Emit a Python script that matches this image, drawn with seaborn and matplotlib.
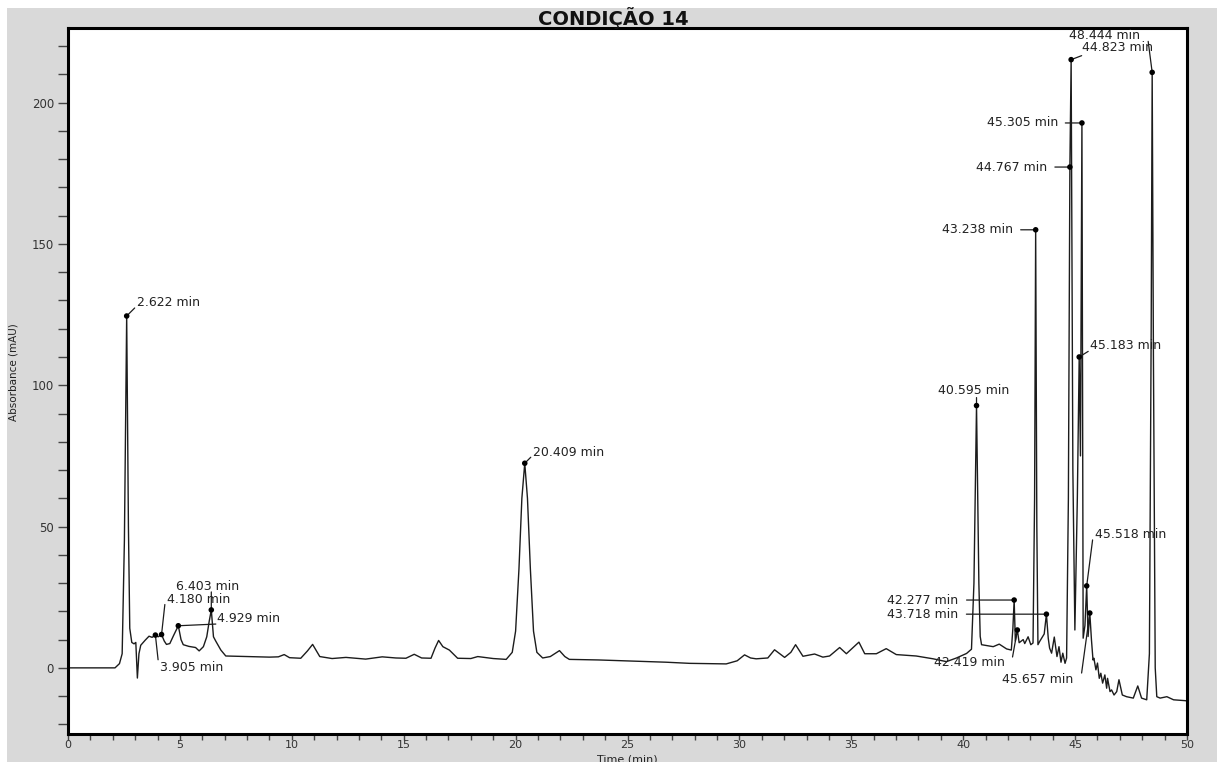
import matplotlib
matplotlib.use("Agg")
import matplotlib.pyplot as plt
from matplotlib.patches import Rectangle
from matplotlib.ticker import MultipleLocator
import numpy as np
import pandas as pd
import seaborn as sns

# Chromatogram trace (time in min, absorbance in mAU), excluding labelled peak apexes
trace_time = [
    0.00, 2.10, 2.30, 2.42, 2.52, 2.70, 2.76, 2.85, 2.95, 3.03, 3.10, 3.17, 3.25,
    3.45, 3.62, 3.76, 4.03, 4.30, 4.40, 4.55, 4.72, 5.05, 5.15, 5.40, 5.70, 5.86,
    6.05, 6.20, 6.31, 6.50, 6.60, 6.83, 7.05, 8.00, 9.00, 9.40, 9.66, 9.90, 10.40,
    10.70, 10.93, 11.10, 11.25, 11.80, 12.42, 13.30, 14.04, 14.65, 15.10, 15.47,
    15.80, 16.22, 16.40, 16.56, 16.75, 17.04, 17.41, 18.00, 18.31, 19.00, 19.58,
    19.85, 20.00, 20.15, 20.28, 20.53, 20.66, 20.80, 20.95, 21.21, 21.55, 21.96,
    22.20, 22.40, 23.70, 25.20, 26.73, 27.77, 29.41, 29.90, 30.23, 30.50, 30.75,
    31.27, 31.57, 32.02, 32.30, 32.51, 32.84, 33.36, 33.73, 34.03, 34.48, 34.78,
    35.34, 35.60, 36.12, 36.56, 37.01, 37.90, 38.66, 39.25, 39.70, 40.15, 40.37,
    40.48, 40.70, 40.76, 40.82, 41.34, 41.61, 41.94, 42.15, 42.22, 42.33, 42.50,
    42.68, 42.75, 42.90, 43.02, 43.12, 43.19, 43.29, 43.34, 43.42, 43.62, 43.80,
    43.86, 43.95, 44.07, 44.19, 44.28, 44.37, 44.45, 44.55, 44.62, 44.70, 44.90,
    44.99, 45.10, 45.24, 45.36, 45.44, 45.58, 45.73, 45.80, 45.84, 45.93, 46.00,
    46.08, 46.15, 46.23, 46.33, 46.41, 46.45, 46.56, 46.63, 46.74, 46.86, 46.96,
    47.11, 47.30, 47.60, 47.80, 47.97, 48.20, 48.32, 48.40, 48.50, 48.58, 48.65,
    48.80, 49.10, 49.40, 49.91, 50.00,
]
trace_abs = [
    0.0, 0.0, 1.5, 5.0, 45.0, 50.0, 14.0, 9.0, 8.5, 9.0, -3.6, 5.0, 8.0,
    9.8, 11.2, 10.8, 11.0, 9.5, 8.3, 8.6, 11.5, 10.0, 8.2, 7.6, 7.2, 6.0,
    7.5, 11.0, 16.5, 11.0, 9.5, 6.3, 4.2, 4.0, 3.8, 3.9, 4.7, 3.6, 3.4,
    6.0, 8.3, 6.0, 4.0, 3.3, 3.7, 3.1, 3.9, 3.5, 3.4, 4.8,
    3.5, 3.4, 7.0, 9.7, 7.5, 6.3, 3.4, 3.3, 4.0, 3.3, 3.0,
    5.5, 13.0, 35.0, 60.0, 60.0, 35.0, 13.0, 5.5, 3.5, 4.0, 6.1,
    4.0, 3.0, 2.8, 2.4, 2.0, 1.6, 1.4, 2.5, 4.6, 3.5, 3.2,
    3.5, 6.4, 3.7, 5.5, 8.2, 4.1, 4.9, 3.8, 4.2, 7.2, 5.0,
    9.1, 5.0, 5.0, 6.8, 4.7, 4.2, 3.2, 2.2, 3.5, 5.1, 6.6,
    30.0, 30.0, 11.1, 8.2, 7.5, 8.4, 6.7, 6.3, 14.0, 9.5, 8.9,
    10.0, 8.6, 11.0, 8.2, 8.8, 60.0, 50.0, 8.2, 9.4, 12.0, 10.5,
    7.0, 5.2, 10.9, 4.0, 7.5, 2.0, 5.2, 1.6, 3.5, 60.0, 70.0,
    13.4, 60.0, 75.0, 10.5, 15.0, 11.1, 10.0, 2.8, 3.4, -0.7, 1.7,
    -3.7, -1.9, -5.4, -2.5, -7.2, -3.7, -8.4, -7.8, -9.6, -8.4, -4.2,
    -9.6, -10.2, -10.7, -6.4, -10.7, -11.3, 5.0, 120.0, 110.0, 0.0, -10.2,
    -10.7, -10.2, -11.3, -11.6, -11.7,
]

# Integrated peaks: retention time (min) and apex absorbance (mAU)
peak_times = [2.622, 3.905, 4.180, 4.929, 6.403, 20.409, 40.595, 42.277, 42.419,
              43.238, 43.718, 44.767, 44.823, 45.183, 45.305, 45.518, 45.657, 48.444]
peak_heights = [124.5, 11.6, 11.8, 14.9, 20.5, 72.4, 92.8, 24.0, 13.4,
                155.0, 19.0, 177.2, 215.2, 110.0, 192.8, 29.0, 19.4, 210.7]

# Label placement per peak: text offset (px), alignment, leader end offset (px)
label_layout = {
    2.622: ((10, 13), "left", (8, 8)),
    3.905: ((5, -32), "left", (2.7, -24.7)),
    4.180: ((5, 35), "left", (3.3, 30)),
    4.929: ((39, 7), "left", (37.5, 1.7)),
    6.403: ((-4, 23), "center", (0, 18)),
    20.409: ((8, 11), "left", (6, 6)),
    40.595: ((-3, 15), "center", (0, 8)),
    42.277: ((-56, 0), "right", (-47.6, 0)),
    42.419: ((-12.5, -33), "right", (-4.8, -27)),
    43.238: ((-22.5, 0), "right", (-15, 0)),
    43.718: ((-88.5, 0), "right", (-80, 0)),
    44.767: ((-22.3, 0), "right", (-15, 0)),
    44.823: ((10.5, 11.7), "left", (10.5, 4)),
    45.183: ((10.7, 11.6), "left", (9, 5.6)),
    45.305: ((-23.3, 0), "right", (-16.6, 0)),
    45.518: ((8.2, 51.7), "left", (5.9, 46)),
    45.657: ((-16.6, -66.7), "right", (-8.2, -60)),
    48.444: ((-12.2, 37), "right", (-4, 31)),
}

df = pd.DataFrame({
    "time": trace_time + peak_times,
    "absorbance": trace_abs + peak_heights,
}).sort_values("time").reset_index(drop=True)

sns.set_theme(style="white")
plt.rcParams["font.family"] = ["DejaVu Sans"]

W, H = 1217, 762
fig = plt.figure(figsize=(W / 100, H / 100), dpi=100, facecolor="white")
fig.add_artist(Rectangle((7 / W, 0), 1 - 7 / W, 1 - 8 / H, transform=fig.transFigure,
                         facecolor="#d9d9d9", edgecolor="none", zorder=-10))

ax = fig.add_axes([68 / W, 1 - 734 / H, (1187 - 68) / W, (734 - 28) / H])
ax.set_facecolor("white")

sns.lineplot(data=df, x="time", y="absorbance", ax=ax, color="#1c1c1c",
             linewidth=1.0, estimator=None, sort=False)
sns.scatterplot(x=peak_times, y=peak_heights, ax=ax, color="black", s=16,
                edgecolor="none", zorder=5)

ax.set_xlim(0, 50)
ax.set_ylim(-23.4, 226.4)
ax.xaxis.set_major_locator(MultipleLocator(5))
ax.xaxis.set_minor_locator(MultipleLocator(1))
ax.yaxis.set_major_locator(MultipleLocator(50))
ax.yaxis.set_minor_locator(MultipleLocator(10))
ax.tick_params(axis="both", which="both", direction="out", color="#444444",
               width=1.0, labelcolor="#333333",
               bottom=True, left=True, top=False, right=False)
ax.tick_params(axis="x", which="both", length=4, pad=0.5, labelsize=8)
ax.tick_params(axis="y", which="both", length=7, pad=3, labelsize=8.5)
for side in ["left", "right", "top", "bottom"]:
    ax.spines[side].set_visible(True)
    ax.spines[side].set_color("black")
    ax.spines[side].set_linewidth(2.2)

ax.set_xlabel("Time (min)", fontsize=8, color="#222222")
ax.xaxis.set_label_coords(0.5, -0.0355)
ax.xaxis.label.set_va("center")
ax.set_ylabel("Absorbance (mAU)", fontsize=7.5, color="#222222")
ax.yaxis.set_label_coords(-0.0483, 0.513)
ax.yaxis.label.set_va("center")

fig.text(613 / W, 1 - 18.5 / H, "CONDIÇÃO 14", ha="center", va="center",
         fontsize=14, fontweight="bold", color="#111111")

for t, v in zip(peak_times, peak_heights):
    (tx, ty), ha, (lx, ly) = label_layout[t]
    ax.annotate("", xy=(t, v), xytext=(lx, ly), textcoords="offset pixels",
                arrowprops=dict(arrowstyle="-", color="#1c1c1c", lw=0.9,
                                shrinkA=0, shrinkB=0))
    ax.annotate(f"{t:.3f} min", xy=(t, v), xytext=(tx, ty),
                textcoords="offset pixels", ha=ha, va="center",
                fontsize=9, color="#222222")

fig.savefig("out.png", dpi=100, facecolor=fig.get_facecolor())
